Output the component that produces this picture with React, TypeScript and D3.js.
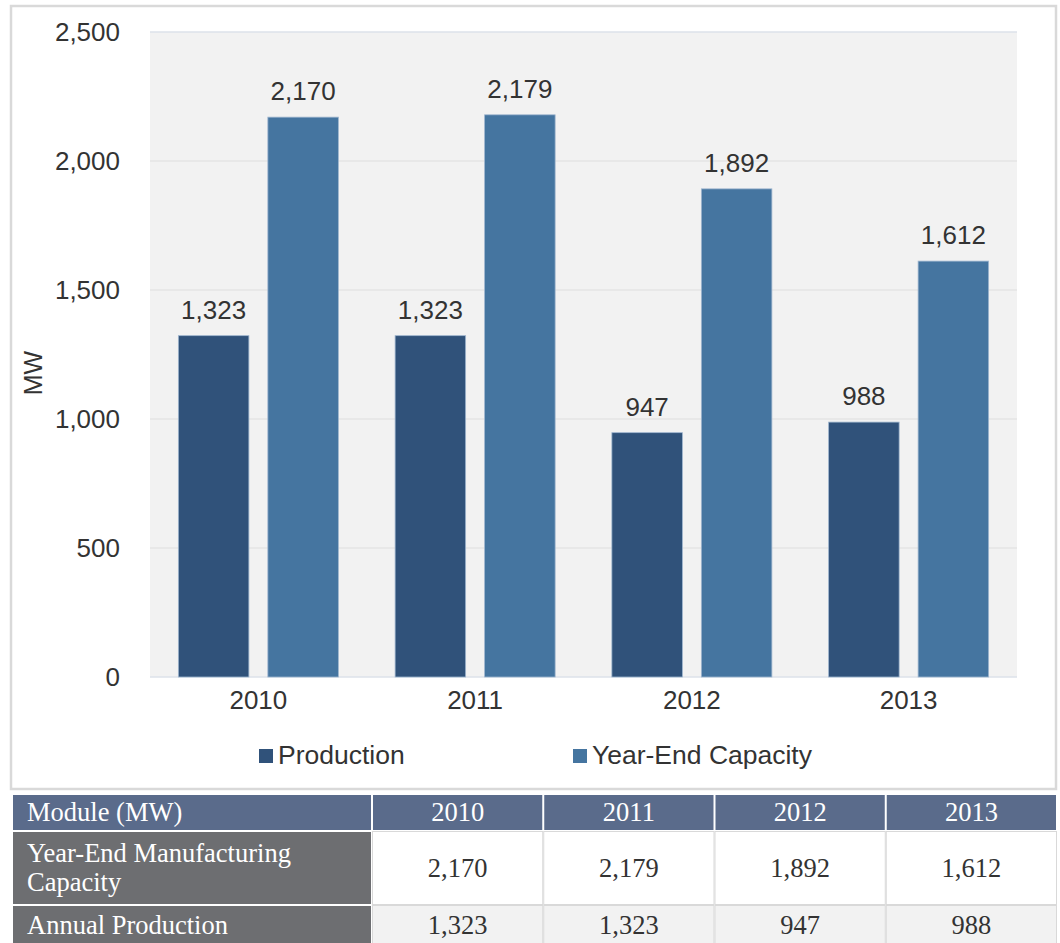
import { useRef, useEffect } from 'react';
import * as d3 from 'd3';

const YEARS = ['2010', '2011', '2012', '2013'];
const PRODUCTION = [1323, 1323, 947, 988];
const CAPACITY = [2170, 2179, 1892, 1612];
const SERIES_NAMES = ['Production', 'Year-End Capacity'];
const Y_TICKS = [0, 500, 1000, 1500, 2000, 2500];
const TABLE_HEAD = 'Module (MW)';
const ROW_LABELS = [['Year-End Manufacturing', 'Capacity'], ['Annual Production']];

const W = 1060, H = 943;
const PLOT = { left: 150, right: 1017, top: 32, bottom: 677 };
const COLORS = ['#30527a', '#4575a0'];
const TEXT = '#333333';
const SANS = '"Liberation Sans", Arial, sans-serif';
const SERIF = '"Liberation Serif", "Times New Roman", serif';

export default function App() {
  const svgRef = useRef<SVGSVGElement>(null);

  useEffect(() => {
    const svg = d3.select(svgRef.current);
    svg.selectAll('*').remove();

    // outer chart frame
    svg.append('rect').attr('x', 11).attr('y', 6).attr('width', 1045).attr('height', 783)
      .attr('fill', '#fff').attr('stroke', '#d9d9d9').attr('stroke-width', 2.5);

    const x = d3.scaleBand<string>().domain(YEARS).range([PLOT.left, PLOT.right]);
    const inner = d3.scaleBand<number>().domain([0, 1]).range([0, x.bandwidth()])
      .paddingInner(0.212).paddingOuter(0.317);
    const y = d3.scaleLinear().domain([0, 2500]).range([PLOT.bottom, PLOT.top]);
    const fmt = d3.format(',');

    svg.append('rect').attr('x', PLOT.left).attr('y', PLOT.top)
      .attr('width', PLOT.right - PLOT.left).attr('height', PLOT.bottom - PLOT.top).attr('fill', '#f2f2f2');

    // gridlines
    svg.append('g').selectAll('line').data(Y_TICKS).join('line')
      .attr('x1', PLOT.left).attr('x2', PLOT.right)
      .attr('y1', d => y(d)).attr('y2', d => y(d))
      .attr('stroke', d => (d === 0 || d === 2500 ? '#dde2ea' : '#e4e4e4')).attr('stroke-width', 1.5);

    // y tick labels
    svg.append('g').selectAll('text').data(Y_TICKS).join('text')
      .attr('x', 120).attr('y', d => y(d)).attr('dy', '0.35em').attr('text-anchor', 'end')
      .attr('font-family', SANS).attr('font-size', 26).attr('fill', TEXT).text(d => fmt(d));

    svg.append('text').attr('transform', 'translate(42,373) rotate(-90)').attr('text-anchor', 'middle')
      .attr('font-family', SANS).attr('font-size', 25).attr('fill', TEXT).text('MW');

    // x labels
    svg.append('g').selectAll('text').data(YEARS).join('text')
      .attr('x', d => (x(d) ?? 0) + x.bandwidth() / 2).attr('y', 709).attr('text-anchor', 'middle')
      .attr('font-family', SANS).attr('font-size', 26).attr('fill', TEXT).text(d => d);

    // bars
    const series = [PRODUCTION, CAPACITY];
    series.forEach((vals, k) => {
      const g = svg.append('g');
      g.selectAll('rect').data(vals).join('rect')
        .attr('x', (_, i) => (x(YEARS[i]) ?? 0) + (inner(k) ?? 0))
        .attr('width', inner.bandwidth())
        .attr('y', v => y(v)).attr('height', v => y(0) - y(v))
        .attr('fill', COLORS[k]).attr('stroke', '#9fb6cf').attr('stroke-width', 0.8);
      g.selectAll('text').data(vals).join('text')
        .attr('x', (_, i) => (x(YEARS[i]) ?? 0) + (inner(k) ?? 0) + inner.bandwidth() / 2)
        .attr('y', v => y(v) - 17).attr('text-anchor', 'middle')
        .attr('font-family', SANS).attr('font-size', 26).attr('fill', TEXT).text(v => fmt(v));
    });

    // legend
    const legendX = [259, 573];
    SERIES_NAMES.forEach((name, k) => {
      svg.append('rect').attr('x', legendX[k]).attr('y', 749).attr('width', 14).attr('height', 14)
        .attr('fill', COLORS[k]);
      svg.append('text').attr('x', legendX[k] + 19).attr('y', 764)
        .attr('font-family', SANS).attr('font-size', 26.5).attr('fill', TEXT).text(name);
    });

    // table
    const col = d3.scaleBand<string>().domain(YEARS).range([372, 1057]);
    const rowY = [795, 831, 905, 945];
    const labelX0 = 13, labelX1 = 371;
    const t = svg.append('g').attr('font-family', SERIF).attr('font-size', 26.5);

    // header
    t.append('rect').attr('x', labelX0).attr('y', rowY[0]).attr('width', labelX1 - labelX0)
      .attr('height', rowY[1] - rowY[0] - 1).attr('fill', '#5a6b8b');
    t.append('text').attr('x', 27).attr('y', 821).attr('fill', '#fff').text(TABLE_HEAD);
    YEARS.forEach(yr => {
      const cx = col(yr) ?? 0;
      t.append('rect').attr('x', cx + 1).attr('y', rowY[0]).attr('width', col.bandwidth() - 2)
        .attr('height', rowY[1] - rowY[0] - 1).attr('fill', '#5a6b8b');
      t.append('text').attr('x', cx + col.bandwidth() / 2).attr('y', 821).attr('text-anchor', 'middle')
        .attr('fill', '#fff').text(yr);
    });

    // body rows
    const rowVals = [CAPACITY, PRODUCTION];
    const rowFill = ['#ffffff', '#f2f2f2'];
    rowVals.forEach((vals, r) => {
      const y0 = rowY[r + 1], y1 = rowY[r + 2];
      t.append('rect').attr('x', labelX0).attr('y', y0 + 1).attr('width', labelX1 - labelX0)
        .attr('height', y1 - y0 - 2).attr('fill', '#6d6e71');
      ROW_LABELS[r].forEach((line, li) => {
        t.append('text').attr('x', 27)
          .attr('y', ROW_LABELS[r].length > 1 ? y0 + 31 + li * 29 : y0 + 29)
          .attr('fill', '#fff').text(line);
      });
      YEARS.forEach((yr, i) => {
        const cx = col(yr) ?? 0;
        t.append('rect').attr('x', cx + 0.5).attr('y', y0 + 0.5).attr('width', col.bandwidth() - 1)
          .attr('height', y1 - y0 - 1).attr('fill', rowFill[r]).attr('stroke', '#d9d9d9').attr('stroke-width', 1);
        t.append('text').attr('x', cx + col.bandwidth() / 2)
          .attr('y', r === 0 ? y0 + 46 : y0 + 29).attr('text-anchor', 'middle')
          .attr('fill', TEXT).text(fmt(vals[i]));
      });
    });
  }, []);

  return (
    <svg
      ref={svgRef}
      width={W}
      height={H}
      viewBox={`0 0 ${W} ${H}`}
      style={{ position: 'absolute', left: 0, top: 0, background: '#fff' }}
    />
  );
}
